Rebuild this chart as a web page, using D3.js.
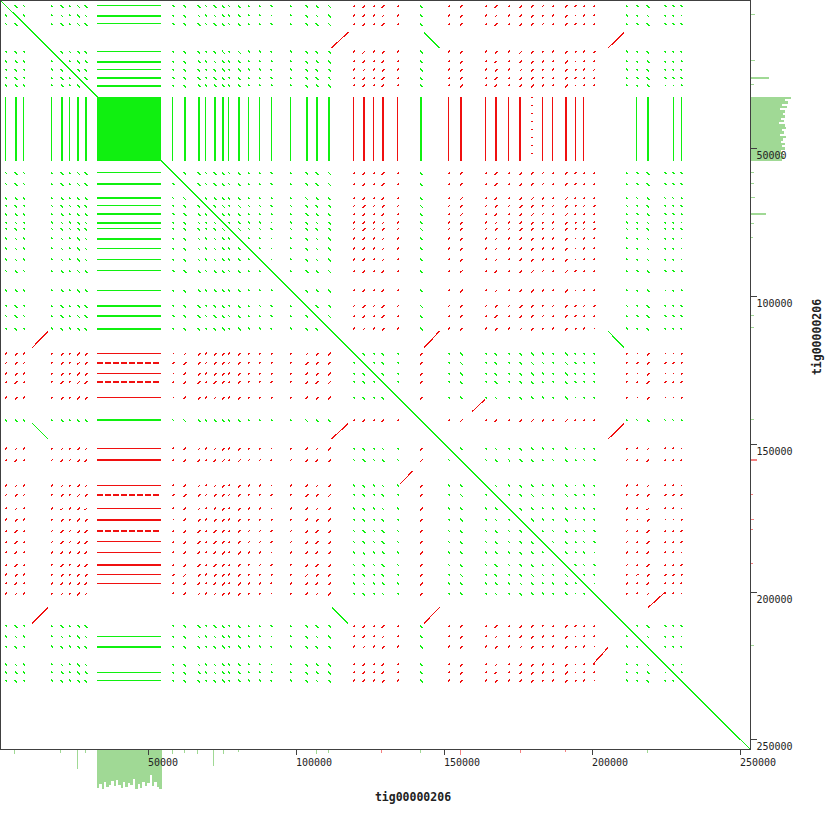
<!DOCTYPE html>
<html>
<head>
<meta charset="utf-8">
<script src="https://cdn.jsdelivr.net/npm/d3@7"></script>
<style>
  body { margin: 0; background: #fff; }
  svg { display: block; font-family: "DejaVu Sans Mono", monospace; }
</style>
</head>
<body>
<svg width="830" height="829"></svg>
<script>
'use strict';

const seqName = 'tig00000206';
const seqLength = 253400;
const tickValues = [50000, 100000, 150000, 200000, 250000];

// Repeat copies along the contig: [start bp, length bp, strand, tandem hit (0 none, 1 solid, 2 broken row, 3 broken row + sparse column)]
const repeats = [
  [1790, 700, '+', 1], [4970, 1100, '+', 1], [7870, 700, '+', 1],
  [17230, 700, '+', 1], [20510, 1100, '+', 1], [23310, 700, '+', 1],
  [26120, 1100, '+', 1], [28620, 1100, '+', 1],
  [58280, 700, '+', 1], [62000, 1100, '+', 1], [66800, 1100, '+', 1],
  [69370, 700, '+', 1], [72200, 1100, '+', 1], [75010, 1100, '+', 1],
  [77140, 700, '+', 1], [80410, 1100, '+', 1], [83790, 700, '+', 1],
  [87510, 700, '+', 1], [91460, 700, '+', 1], [97980, 700, '+', 1],
  [103220, 1100, '+', 1], [106670, 1100, '+', 1], [110920, 1100, '+', 1],
  [119370, 700, '-', 1], [122480, 1100, '-', 2], [126130, 700, '-', 1],
  [128960, 1100, '-', 2], [134240, 700, '-', 1], [141910, 1100, '+', 1],
  [151470, 700, '-', 1], [155420, 1100, '-', 1], [163970, 700, '-', 1],
  [167150, 1100, '-', 2], [171740, 700, '-', 1], [175520, 1100, '-', 1],
  [179410, 1100, '-', 3], [183130, 700, '-', 1], [186610, 700, '-', 1],
  [190900, 1100, '-', 1], [194180, 700, '-', 1], [197080, 700, '-', 1],
  [200530, 700, '-', 0],
  [211510, 700, '+', 0], [215050, 700, '+', 1], [218500, 1100, '+', 1],
  [224520, 700, '+', 0], [227220, 700, '+', 1], [229990, 700, '+', 1],
];

// Tandem array block [start, end]
const tandemArray = [32700, 54500];

// Segmental duplications, each family is a list of copies [start, end, strand]
const dupFamilies = [
  [[10900, 16200, '+'], [112060, 117660, '-'], [143240, 148480, '+'], [205500, 210900, '-']],
  [[135100, 139350, '+'], [159450, 163850, '-']],
  [[200430, 205500, '+'], [219010, 224650, '-']],
];

// Coverage bars under the x axis / right of the y axis: [position bp, depth, strand]
const coverageX = [
  [4830, 1, '+'], [20270, 0.8, '+'], [26110, 4, '+'], [28610, 0.8, '+'],
  [58100, 1, '+'], [62090, 0.8, '+'], [66550, 1, '+'], [71960, 3.3, '+'],
  [75500, 1, '+'], [80330, 0.6, '+'], [106650, 1, '+'], [110770, 0.8, '+'],
  [128850, 0.8, '-'], [141880, 0.8, '+'], [155300, 1.1, '-'], [175530, 0.8, '-'],
  [190730, 0.6, '-'], [218470, 0.8, '+'],
];
const coverageY = [
  [4830, 1, '+'], [20370, 1, '+'], [26110, 3.8, '+'], [28480, 0.8, '+'],
  [58200, 0.8, '+'], [61920, 0.8, '+'], [66650, 1, '+'], [72060, 3.2, '+'],
  [75440, 0.8, '+'], [80160, 0.6, '+'], [106420, 0.8, '+'], [110570, 0.8, '+'],
  [141650, 0.8, '+'], [155400, 1.3, '-'], [166990, 0.6, '-'], [175430, 0.8, '-'],
  [179050, 0.6, '-'], [190640, 0.6, '-'], [218240, 0.8, '+'],
];

// Coverage depth over the tandem array, left to right / top to bottom
const tandemDepthX = [
  7.7, 6.9, 7.9, 6.5, 7.5, 7.1, 6.4, 7.3, 6.1, 7.2, 7.7, 6.5, 7.5, 6.7,
  7.1, 5.9, 7.9, 6.9, 7.7, 6.5, 7.3, 6.7, 5.2, 7.4, 6.5, 7.5, 7.9,
];
const tandemDepthY = [
  8.2, 7.0, 7.6, 6.3, 7.3, 6.0, 6.9, 6.5, 7.0, 6.2, 6.7, 5.7, 6.9, 7.1,
  6.3, 6.8, 6.0, 7.2, 6.6, 6.1, 6.9, 6.4, 7.0, 6.2, 6.6, 5.9, 6.8, 6.3,
];

const colours = { same: '#10f010', opposite: '#f01010', covSame: '#a0d995', covOpposite: '#f58080', axis: '#404040' };

const plotW = 750;
const plotH = 749;

const svg = d3.select('svg');

const x = d3.scaleLinear().domain([0, seqLength]).range([0, plotW]);
const y = d3.scaleLinear().domain([0, seqLength]).range([0, plotH]);
const depth = d3.scaleLinear().domain([0, 10]).range([0, 50]);

const plot = svg.append('g').attr('class', 'plot').attr('shape-rendering', 'crispEdges');

/*
 * Build a segment for copy a (on x) against copy b (on y).
 */
function segment(a0, a1, b0, b1, same) {
  if (same) return { x1: x(a0), y1: y(b0), x2: x(a1), y2: y(b1), same };
  return { x1: x(a0), y1: y(b1), x2: x(a1), y2: y(b0), same };
}

// Every repeat copy against every other copy (matched part a bit shorter than the copy).
const marks = [];
repeats.forEach((row, i) => {
  repeats.forEach((col, j) => {
    if (i === j) return;
    const m = col[1] * 0.8;
    marks.push(segment(col[0], col[0] + m, row[0], row[0] + m, col[2] === row[2]));
  });
});

// Duplication copies against each other.
const dups = [];
dupFamilies.forEach(family => {
  family.forEach((a, i) => {
    family.forEach((b, j) => {
      if (i === j) return;
      dups.push(segment(a[0], a[1], b[0], b[1], a[2] === b[2]));
    });
  });
});

// Tandem array against itself.
plot.append('rect')
  .attr('x', x(tandemArray[0]))
  .attr('y', y(tandemArray[0]))
  .attr('width', x(tandemArray[1]) - x(tandemArray[0]))
  .attr('height', y(tandemArray[1]) - y(tandemArray[0]))
  .attr('fill', colours.same);

// Repeat copies against the tandem array.
const tandemHits = repeats.filter(r => r[3] > 0);
const thick = r => Math.max(1, Math.round(x(r[1])) - 1);

plot.selectAll('line.trow')
  .data(tandemHits)
  .join('line')
  .attr('class', 'trow')
  .attr('x1', x(tandemArray[0]))
  .attr('x2', x(tandemArray[1]))
  .attr('y1', d => Math.round(y(d[0])) + thick(d) / 2)
  .attr('y2', d => Math.round(y(d[0])) + thick(d) / 2)
  .attr('stroke-width', thick)
  .attr('stroke-dasharray', d => d[3] >= 2 ? '6,2' : null)
  .attr('stroke', d => d[2] === '+' ? colours.same : colours.opposite);

plot.selectAll('line.tcol')
  .data(tandemHits)
  .join('line')
  .attr('class', 'tcol')
  .attr('y1', y(tandemArray[0]))
  .attr('y2', y(tandemArray[1]))
  .attr('x1', d => Math.round(x(d[0])) + thick(d) / 2)
  .attr('x2', d => Math.round(x(d[0])) + thick(d) / 2)
  .attr('stroke-width', thick)
  .attr('stroke-dasharray', d => d[3] === 3 ? '1,7' : null)
  .attr('stroke', d => d[2] === '+' ? colours.same : colours.opposite);

plot.selectAll('line.mark')
  .data(marks)
  .join('line')
  .attr('class', 'mark')
  .attr('x1', d => d.x1).attr('y1', d => d.y1)
  .attr('x2', d => d.x2).attr('y2', d => d.y2)
  .attr('stroke', d => d.same ? colours.same : colours.opposite)
  .attr('stroke-width', 1.3);

plot.selectAll('line.dup')
  .data(dups)
  .join('line')
  .attr('class', 'dup')
  .attr('x1', d => d.x1).attr('y1', d => d.y1)
  .attr('x2', d => d.x2).attr('y2', d => d.y2)
  .attr('stroke', d => d.same ? colours.same : colours.opposite)
  .attr('stroke-width', 1.2);

// Self diagonal
plot.append('line')
  .attr('x1', x(0)).attr('y1', y(0))
  .attr('x2', x(seqLength)).attr('y2', y(seqLength))
  .attr('stroke', colours.same)
  .attr('stroke-width', 1.4);

// Coverage below the x axis and right of the y axis
const cov = svg.append('g').attr('shape-rendering', 'crispEdges');
const binX = (tandemArray[1] - tandemArray[0]) / tandemDepthX.length;
const binY = (tandemArray[1] - tandemArray[0]) / tandemDepthY.length;

cov.selectAll('rect.tx')
  .data(tandemDepthX)
  .join('rect')
  .attr('x', (d, i) => x(tandemArray[0] + i * binX))
  .attr('width', x(binX) + 0.3)
  .attr('y', plotH)
  .attr('height', d => depth(d))
  .attr('fill', colours.covSame);

cov.selectAll('rect.ty')
  .data(tandemDepthY)
  .join('rect')
  .attr('y', (d, i) => y(tandemArray[0] + i * binY))
  .attr('height', y(binY) + 0.3)
  .attr('x', plotW)
  .attr('width', d => depth(d))
  .attr('fill', colours.covSame);

cov.selectAll('rect.cx')
  .data(coverageX)
  .join('rect')
  .attr('x', d => Math.round(x(d[0])))
  .attr('width', 1)
  .attr('y', plotH)
  .attr('height', d => depth(d[1]))
  .attr('fill', d => d[2] === '+' ? colours.covSame : colours.covOpposite);

cov.selectAll('rect.cy')
  .data(coverageY)
  .join('rect')
  .attr('y', d => Math.round(y(d[0])))
  .attr('height', d => d[1] > 1.2 ? 2 : 1)
  .attr('x', plotW)
  .attr('width', d => depth(d[1]))
  .attr('fill', d => d[2] === '+' ? colours.covSame : colours.covOpposite);

// Frame
svg.append('rect')
  .attr('x', 0.5).attr('y', 0.5)
  .attr('width', plotW).attr('height', plotH)
  .attr('fill', 'none')
  .attr('stroke', colours.axis)
  .attr('shape-rendering', 'crispEdges');

// Axes
const xAxis = svg.append('g')
  .attr('transform', `translate(0.5,${plotH + 0.5})`)
  .call(d3.axisBottom(x).tickValues(tickValues).tickSize(5).tickFormat(d3.format('d')));

xAxis.select('.domain').remove();
xAxis.selectAll('line').attr('stroke', colours.axis).attr('shape-rendering', 'crispEdges');
xAxis.selectAll('text')
  .attr('text-anchor', 'start')
  .attr('x', -1)
  .attr('y', 9)
  .attr('fill', '#222')
  .style('font-family', '"DejaVu Sans Mono", monospace')
  .style('font-size', '10px');

const yAxis = svg.append('g')
  .attr('transform', `translate(${plotW + 0.5},0.5)`)
  .call(d3.axisRight(y).tickValues(tickValues).tickSize(6).tickFormat(d3.format('d')));

yAxis.select('.domain').remove();
yAxis.selectAll('line').attr('stroke', colours.axis).attr('shape-rendering', 'crispEdges');
yAxis.selectAll('text')
  .attr('x', 6)
  .attr('dy', '1.05em')
  .attr('fill', '#222')
  .style('font-family', '"DejaVu Sans Mono", monospace')
  .style('font-size', '10px');

// Titles
svg.append('text')
  .attr('x', 413)
  .attr('y', 801)
  .attr('text-anchor', 'middle')
  .attr('font-weight', 'bold')
  .attr('font-size', '11.5px')
  .attr('fill', '#222')
  .text(seqName);

svg.append('text')
  .attr('transform', 'translate(821,337) rotate(-90)')
  .attr('text-anchor', 'middle')
  .attr('font-weight', 'bold')
  .attr('font-size', '11.5px')
  .attr('fill', '#222')
  .text(seqName);
</script>
</body>
</html>
